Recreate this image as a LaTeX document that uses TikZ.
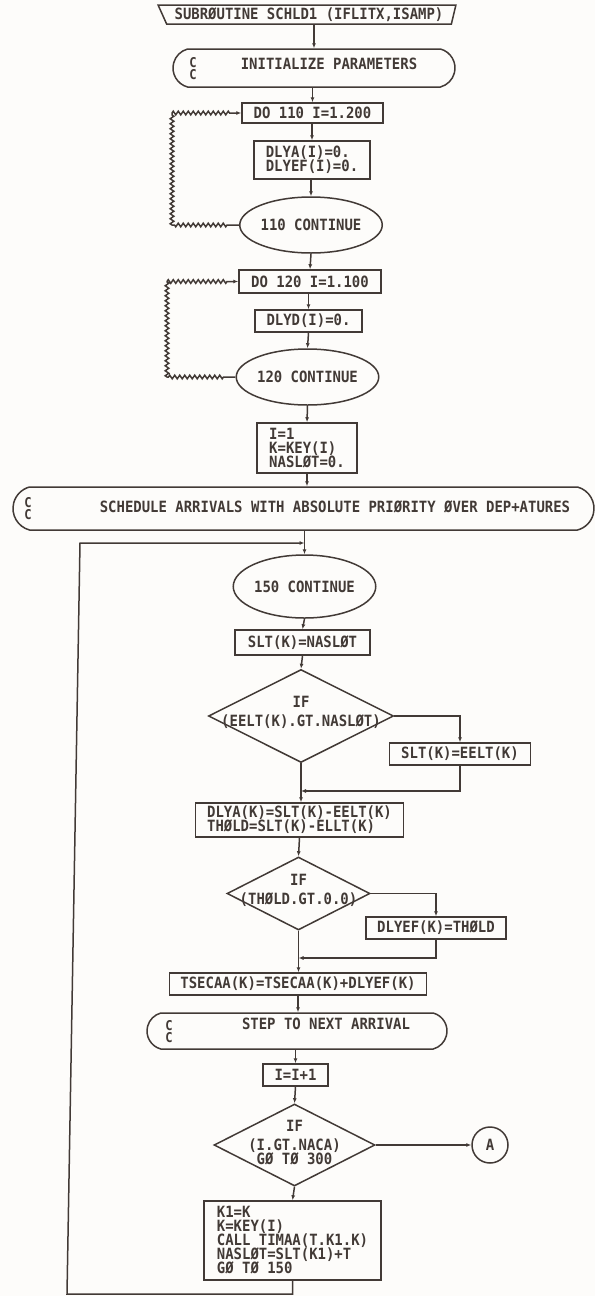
\documentclass[tikz,border=0pt]{standalone}
\usepackage{fontspec}
\newfontfamily\plotfont[FakeStretch=0.9]{DejaVu Sans Mono}
\usetikzlibrary{shapes.geometric,shapes.misc,arrows.meta,decorations.pathmorphing}
\definecolor{ink}{RGB}{66,58,54}
\definecolor{paper}{RGB}{253,252,250}
\begin{document}
\begin{tikzpicture}[x=1pt,y=-1pt,
  every node/.style={font=\plotfont\bfseries\fontsize{15.5}{14}\selectfont, text=ink, inner sep=0pt},
  line/.style={draw=ink, line width=1.5pt},
  proc/.style={line, rectangle, align=left},
  oval/.style={line, ellipse},
  note/.style={line, rounded rectangle, rounded rectangle arc length=150},
  test/.style={line, diamond},
  cc/.style={align=left, font=\plotfont\bfseries\fontsize{13.5}{12}\selectfont},
  ctext/.style={align=center},
  flow/.style={line, -{Latex[length=5pt,width=4pt]}},
  zig/.style={decoration={zigzag, segment length=5pt, amplitude=1.8pt}}
]
% page
\fill[paper] (0,0) rectangle (595,1296);
\useasboundingbox (0,0) rectangle (595,1296);

% --- entry and initialisation ---
\node[line, trapezium, trapezium left angle=120, trapezium right angle=107,
      trapezium stretches=true, minimum width=298pt, minimum height=19pt]
      (hdr) at (309,14.5) {SUBRØUTINE SCHLD1 (IFLITX,ISAMP)};
\node[note, minimum width=282pt, minimum height=38pt] (init) at (314,68) {};
\node[cc] (initc) at (193,69) {C\\C};
\node (initt) at (329,64) {INITIALIZE PARAMETERS};

\node[proc, minimum width=141pt, minimum height=20pt] (do110) at (312.5,113) {DO 110 I=1.200};
\node[proc, minimum width=116pt, minimum height=38pt] (dlya) at (312,160) {DLYA(I)=0.\\DLYEF(I)=0.};
\node[oval, minimum width=114pt, minimum height=56pt] (e110) at (311,225) {110 CONTINUE};

\node[proc, minimum width=142pt, minimum height=23pt] (do120) at (310,281.5) {DO 120 I=1.100};
\node[proc, minimum width=107pt, minimum height=22pt] (dlyd) at (308.5,321) {DLYD(I)=0.};
\node[oval, minimum width=115pt, minimum height=56pt] (e120) at (307.5,377) {120 CONTINUE};

\node[proc, minimum width=100pt, minimum height=50pt] (ione) at (307,448) {I=1\\K=KEY(I)\\NASLØT=0.};

% --- arrival scheduling loop ---
\node[note, minimum width=581pt, minimum height=43pt] (sched) at (303.5,508.5) {};
\node[cc] (schedc) at (28,509) {C\\C};
\node (schedt) at (335,507) {SCHEDULE ARRIVALS WITH ABSOLUTE PRIØRITY ØVER DEP+ATURES};

\coordinate (j150) at (304.5,543);
\node[oval, minimum width=115pt, minimum height=63pt] (e150) at (304.5,586.5) {150 CONTINUE};
\node[proc, minimum width=135pt, minimum height=25pt] (slt) at (302.5,642.5) {SLT(K)=NASLØT};

\node[test, minimum width=185pt, minimum height=93pt] (d1) at (301,716) {};
\node[ctext] (d1t) at (301,712) {IF\\[5pt](EELT(K).GT.NASLØT)};
\node[proc, minimum width=141pt, minimum height=22pt] (sltb) at (460,754) {SLT(K)=EELT(K)};
\coordinate (j1) at (301,791);

\node[proc, minimum width=208pt, minimum height=34pt] (dlyak) at (299.5,820) {DLYA(K)=SLT(K)-EELT(K)\\THØLD=SLT(K)-ELLT(K)};

\node[test, minimum width=143pt, minimum height=73pt] (d2) at (298.5,893.5) {};
\node[ctext] (d2t) at (298.5,890) {IF\\[5pt](THØLD.GT.0.0)};
\node[proc, minimum width=140pt, minimum height=22pt] (dlyef) at (436,928) {DLYEF(K)=THØLD};
\coordinate (j2) at (298.5,958);

\node[proc, minimum width=257pt, minimum height=22pt] (tsec) at (298,984) {TSECAA(K)=TSECAA(K)+DLYEF(K)};

\node[note, minimum width=300pt, minimum height=36pt] (step) at (297,1031) {};
\node[cc] (stepc) at (169,1032) {C\\C};
\node (stept) at (326,1024) {STEP TO NEXT ARRIVAL};

\node[proc, minimum width=65pt, minimum height=22pt] (iinc) at (295.5,1075) {I=I+1};

\node[test, minimum width=161pt, minimum height=82pt] (d3) at (294.5,1145) {};
\node[ctext] (d3t) at (294.5,1143) {IF\\[5pt](I.GT.NACA)\\GØ TØ 300};
\node[line, circle, minimum size=36pt] (conA) at (490,1145) {A};

\node[proc, minimum width=177pt, minimum height=79pt] (k1) at (292.5,1240.5)
  {K1=K\\K=KEY(I)\\CALL TIMAA(T.K1.K)\\NASLØT=SLT(K1)+T\\GØ TØ 150};

% loop-back route
\coordinate (cb1) at (292.5,1294);
\coordinate (cb2) at (67,1294);
\coordinate (cl) at (80,543);

% DO-loop return corners
\coordinate (l1b) at (172,225);
\coordinate (l1t) at (172,113);
\coordinate (l2b) at (167,377);
\coordinate (l2t) at (167,281.5);

% --- main flow (vertical drops at the lower node's axis) ---
\draw[flow] (init.north |- hdr.south) -- (init.north);
\draw[flow] (do110.north |- init.south) -- (do110.north);
\draw[flow] (dlya.north |- do110.south) -- (dlya.north);
\draw[flow] (e110.north |- dlya.south) -- (e110.north);
\draw[flow] (e110.south) -- (do120.north);
\draw[flow] (dlyd.north |- do120.south) -- (dlyd.north);
\draw[flow] (dlyd.south) -- (e120.north);
\draw[flow] (e120.south) -- (ione.north);
\draw[flow] (ione.south) -- (ione.south |- sched.north);
\draw[flow] (e150.north |- sched.south) -- (e150.north);
\draw[flow] (e150.south) -- (slt.north);
\draw[flow] (slt.south) -- (d1.north);

\draw[flow] (d1.east) -| (sltb.north);
\draw[flow] (sltb.south) |- (j1);
\draw[line] (d1.south) -- (j1);
\draw[flow] (j1) -- (j1 |- dlyak.north);

\draw[flow] (dlyak.south) -- (d2.north);
\draw[flow] (d2.east) -| (dlyef.north);
\draw[flow] (dlyef.south) |- (j2);
\draw[line] (d2.south) -- (j2);
\draw[flow] (j2) -- (j2 |- tsec.north);

\draw[flow] (tsec.south) -- (tsec.south |- step.north);
\draw[flow] (iinc.north |- step.south) -- (iinc.north);
\draw[flow] (iinc.south) -- (d3.north);
\draw[flow] (d3.east) -- (conA.west);
\draw[flow] (d3.south) -- (k1.north);

% back to 150 CONTINUE
\draw[flow] (k1.south) -- (cb1) -- (cb2) -- (cl) -- (j150);

% DO loops (wavy return lines)
\draw[flow] (e110.west) -- ++(-12,0) decorate[zig]{-- (l1b)} decorate[zig]{-- (l1t)}
  decorate[zig]{-- ++(58,0)} -- (do110.west);
\draw[flow] (e120.west) -- ++(-12,0) decorate[zig]{-- (l2b)} decorate[zig]{-- (l2t)}
  decorate[zig]{-- ++(60,0)} -- (do120.west);
\end{tikzpicture}
\end{document}
